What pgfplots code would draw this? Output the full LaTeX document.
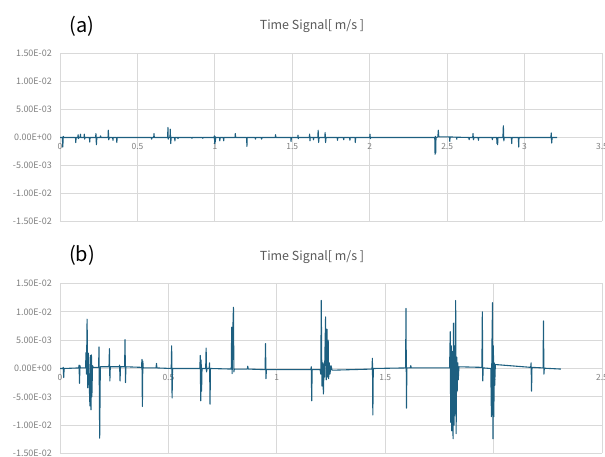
\documentclass[border=0pt]{standalone}
\usepackage{fontspec}
\setmainfont{Noto Sans CJK JP}
\usepackage{pgfplots}
\pgfplotsset{compat=1.18}
\definecolor{sig}{HTML}{1D5F80}
\definecolor{gridc}{HTML}{D9D9D9}
\definecolor{labc}{HTML}{7F7F7F}
\definecolor{titc}{HTML}{595959}

\pgfplotsset{
  sigaxis/.style={
    scale only axis,
    width=542bp,
    ymin=-0.015, ymax=0.015,
    scaled y ticks=false,
    ytick={-0.015,-0.01,-0.005,0,0.005,0.01,0.015},
    yticklabels={-1.50E-02,-1.00E-02,-5.00E-03,0.00E+00,5.00E-03,1.00E-02,1.50E-02},
    axis x line*=middle,
    axis y line*=left,
    hide obscured x ticks=false,
    x axis line style={draw=gridc, line width=0.8pt},
    y axis line style={draw=none},
    major tick length=0pt,
    grid=major,
    grid style={draw=gridc, line width=0.8pt},
    yticklabel style={font=\fontsize{9}{10}\selectfont, text=labc, inner sep=0pt, xshift=-8bp},
    xticklabel style={font=\fontsize{8.5}{9}\selectfont, text=labc, inner sep=0pt, yshift=-6bp},
    clip=false,
  },
  sigline/.style={color=sig, line width=1.1pt, line join=round},
}

\begin{document}
\begin{tikzpicture}[x=1bp,y=1bp]
\useasboundingbox (0,0) rectangle (605,457);

% ---- (a) ----
\node[font=\fontsize{20}{22}\selectfont, text=black] at (82,431) {(a)};
\node[font=\fontsize{12.5}{14}\selectfont, text=titc] at (312,431) {Time Signal[ m/s ]};
\begin{axis}[sigaxis, at={(60bp,235.5bp)}, anchor=south west, height=168bp,
  xmin=0, xmax=3.5, xtick={0,0.5,1,1.5,2,2.5,3,3.5},
  xticklabels={0,0.5,1,1.5,2,2.5,3,3.5}]
\addplot[sigline] coordinates {
(0,0)(0.015,0)(0.018,-1.7e-3)(0.021,0.2e-3)(0.024,0)
(0.100,0)(0.102,-0.9e-3)(0.104,0)
(0.115,0)(0.117,0.5e-3)(0.119,-0.2e-3)(0.121,0)
(0.130,0)(0.132,0.6e-3)(0.134,0)
(0.155,0)(0.157,0.6e-3)(0.159,-0.3e-3)(0.161,0)
(0.190,0)(0.192,-0.8e-3)(0.194,0)
(0.230,0)(0.232,0.7e-3)(0.235,-1.3e-3)(0.238,0)
(0.260,0)(0.262,0.3e-3)(0.264,0)
(0.310,0)(0.312,1.3e-3)(0.315,-0.4e-3)(0.318,0)
(0.340,0)(0.342,-0.5e-3)(0.344,0)
(0.365,0)(0.367,-0.9e-3)(0.369,0)
(0.590,0)(0.592,-0.3e-3)(0.594,0)
(0.605,0)(0.607,0.7e-3)(0.609,0)
(0.695,0)(0.697,1.8e-3)(0.699,-0.3e-3)(0.701,0)
(0.710,0)(0.712,1.5e-3)(0.715,-1.1e-3)(0.718,0)
(0.740,0)(0.742,-0.6e-3)(0.744,0)
(0.760,0)(0.762,-0.2e-3)(0.764,0)
(0.850,0)(0.852,-0.15e-3)(0.854,0)
(0.920,0)(0.922,-0.15e-3)(0.924,0)
(0.995,0)(0.997,0.3e-3)(0.999,-1.1e-3)(1.001,0.2e-3)(1.003,-0.8e-3)(1.005,0)
(1.030,0)(1.032,-0.6e-3)(1.034,0)
(1.055,0)(1.057,-0.6e-3)(1.059,0)
(1.130,0)(1.132,0.7e-3)(1.134,0)
(1.205,0)(1.207,-1.6e-3)(1.209,0)
(1.260,0)(1.262,-0.3e-3)(1.264,0)
(1.300,0)(1.302,-0.3e-3)(1.304,0)
(1.390,0)(1.392,0.5e-3)(1.394,0)
(1.490,0)(1.492,-0.7e-3)(1.494,0)
(1.535,0)(1.537,0.4e-3)(1.539,-0.2e-3)(1.541,0)
(1.610,0)(1.612,0.6e-3)(1.614,-0.6e-3)(1.616,0)
(1.635,0)(1.637,-0.4e-3)(1.639,0)
(1.665,0)(1.667,1.3e-3)(1.670,-0.9e-3)(1.673,0)
(1.710,0)(1.712,0.9e-3)(1.715,-0.9e-3)(1.718,0)
(1.790,0)(1.792,-0.5e-3)(1.794,0)
(1.830,0)(1.832,-0.4e-3)(1.834,0)
(1.870,0)(1.872,-0.5e-3)(1.874,0)
(1.905,0)(1.907,-0.9e-3)(1.909,0)
(2.000,0)(2.002,0.6e-3)(2.004,-0.2e-3)(2.006,0)
(2.420,0)(2.422,-3.0e-3)(2.424,0.2e-3)(2.426,-2.8e-3)(2.428,0)
(2.440,0.1e-3)(2.443,1.3e-3)(2.446,0.1e-3)
(2.515,0.1e-3)(2.517,-0.7e-3)(2.519,0.1e-3)
(2.560,0.05e-3)(2.562,-0.3e-3)(2.564,0.05e-3)
(2.640,0)(2.642,-0.4e-3)(2.644,0)
(2.665,0)(2.667,0.7e-3)(2.670,-0.4e-3)(2.673,0)
(2.700,0)(2.702,-0.5e-3)(2.704,0)
(2.790,0)(2.792,-0.4e-3)(2.794,0)
(2.820,0)(2.822,-1.1e-3)(2.824,0)(2.826,-1.3e-3)(2.828,0)
(2.860,0)(2.863,2.1e-3)(2.866,-0.6e-3)(2.869,0)
(2.915,0)(2.917,-1.1e-3)(2.919,0)
(2.960,0)(2.962,-1.7e-3)(2.964,0)
(3.170,0)(3.172,0.8e-3)(3.175,-1.0e-3)(3.178,0)
(3.210,0)
};
\end{axis}

% ---- (b) ----
\node[font=\fontsize{20}{22}\selectfont, text=black] at (82,202) {(b)};
\node[font=\fontsize{12.5}{14}\selectfont, text=titc] at (312,200) {Time Signal[ m/s ]};
\begin{axis}[sigaxis, at={(60bp,3.5bp)}, anchor=south west, height=170bp,
  xmin=0, xmax=2.5, xtick={0,0.5,1,1.5,2,2.5},
  xticklabels={0,0.5,1,1.5,2,2.5}]
\addplot[sigline] coordinates {
(0,0)(0.013,0)(0.015,0.2e-3)(0.017,-1.6e-3)(0.019,0)
(0.086,0.1e-3)(0.088,0.6e-3)(0.090,-2.6e-3)(0.092,0.5e-3)(0.094,0.1e-3)
(0.118,0.1e-3)(0.120,2.8e-3)(0.122,-1.0e-3)(0.125,8.7e-3)(0.128,-3.4e-3)(0.131,2.7e-3)(0.134,-1.5e-3)
(0.138,-6.6e-3)(0.141,2.3e-3)(0.143,-7.3e-3)(0.145,2.4e-3)(0.147,-5.0e-3)(0.150,0.5e-3)(0.153,0.2e-3)
(0.178,0.2e-3)(0.180,3.8e-3)(0.183,-12.3e-3)(0.186,0.3e-3)
(0.226,0.3e-3)(0.228,3.5e-3)(0.230,-2.2e-3)(0.232,0.3e-3)
(0.273,0.3e-3)(0.275,0.6e-3)(0.277,-2.2e-3)(0.279,0.3e-3)
(0.298,0.3e-3)(0.300,5.1e-3)(0.302,-2.5e-3)(0.304,0.3e-3)
(0.376,0.2e-3)(0.378,1.6e-3)(0.380,-6.7e-3)(0.382,1.3e-3)(0.384,0.1e-3)
(0.443,0.1e-3)(0.445,0.9e-3)(0.447,0.1e-3)
(0.513,0)(0.515,4.0e-3)(0.517,-5.2e-3)(0.519,0)
(0.645,0)(0.647,2.3e-3)(0.649,-5.7e-3)(0.651,1.5e-3)(0.653,-4.0e-3)(0.655,0)
(0.672,0)(0.674,3.6e-3)(0.676,-0.6e-3)(0.678,0)
(0.688,0)(0.690,1.0e-3)(0.692,-6.3e-3)(0.694,0)
(0.790,-0.1e-3)(0.792,7.3e-3)(0.794,-0.9e-3)(0.797,6.5e-3)(0.800,10.8e-3)(0.802,-0.6e-3)(0.804,-0.1e-3)
(0.864,-0.1e-3)(0.866,0.4e-3)(0.868,-0.1e-3)
(0.946,-0.2e-3)(0.948,4.4e-3)(0.950,-1.8e-3)(0.952,-0.2e-3)
(1.157,-0.2e-3)(1.159,0.3e-3)(1.161,-5.7e-3)(1.163,-0.2e-3)
(1.200,-0.2e-3)(1.203,-1.0e-3)(1.205,12.0e-3)(1.208,-3.1e-3)(1.211,1.0e-3)
(1.215,-4.5e-3)(1.218,1.0e-3)(1.220,-1.5e-3)(1.225,9.1e-3)(1.228,-2.0e-3)
(1.232,6.9e-3)(1.234,-1.5e-3)(1.237,5.0e-3)(1.239,-1.8e-3)(1.242,1.0e-3)(1.245,-1.0e-3)(1.250,0.5e-3)(1.255,-0.3e-3)
(1.439,-0.1e-3)(1.441,1.8e-3)(1.443,-8.2e-3)(1.445,0)
(1.594,0.1e-3)(1.596,10.6e-3)(1.598,-7.0e-3)(1.600,0.1e-3)
(1.616,0.1e-3)(1.618,0.5e-3)(1.620,0.1e-3)
(1.797,0.1e-3)(1.800,6.5e-3)(1.802,-9.5e-3)(1.805,4.0e-3)(1.807,-11.0e-3)(1.810,3.0e-3)(1.813,-12.4e-3)
(1.815,8.0e-3)(1.818,-10.0e-3)(1.820,4.0e-3)(1.822,-8.0e-3)(1.825,12.0e-3)(1.827,-11.5e-3)
(1.830,2.0e-3)(1.832,-4.0e-3)(1.835,1.0e-3)(1.837,-2.0e-3)(1.840,0.3e-3)
(1.946,0.2e-3)(1.948,10.0e-3)(1.950,-2.2e-3)(1.952,0.1e-3)
(1.987,0)(1.990,-8.5e-3)(1.992,3.0e-3)(1.995,11.6e-3)(1.997,-12.4e-3)(1.999,4.0e-3)(2.001,-8.5e-3)(2.003,1.0e-3)(2.005,-3.0e-3)(2.008,0.7e-3)
(2.171,0.2e-3)(2.173,1.0e-3)(2.175,-4.0e-3)(2.177,0.2e-3)
(2.228,0.1e-3)(2.230,8.4e-3)(2.232,-1.0e-3)(2.234,0.05e-3)
(2.310,-0.1e-3)
};
\end{axis}
\end{tikzpicture}
\end{document}
